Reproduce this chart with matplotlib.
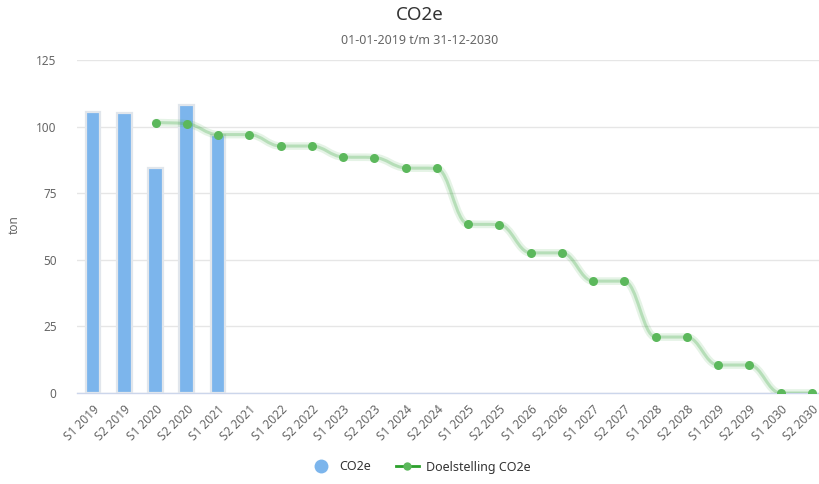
import matplotlib
matplotlib.use("Agg")
import matplotlib.pyplot as plt
from matplotlib.path import Path
from matplotlib.patches import PathPatch
from matplotlib.lines import Line2D

plt.rcParams['font.family'] = ['Noto Sans', 'DejaVu Sans']

categories = ["S1 2019", "S2 2019", "S1 2020", "S2 2020", "S1 2021", "S2 2021",
              "S1 2022", "S2 2022", "S1 2023", "S2 2023", "S1 2024", "S2 2024",
              "S1 2025", "S2 2025", "S1 2026", "S2 2026", "S1 2027", "S2 2027",
              "S1 2028", "S2 2028", "S1 2029", "S2 2029", "S1 2030", "S2 2030"]
co2e = [105.5, 105.2, 84.3, 108.0, 96.8]
target_start = 2
target = [101.5, 101.1, 97.0, 97.0, 92.7, 92.7, 88.6, 88.4, 84.5, 84.3,
          63.4, 63.2, 52.6, 52.6, 42.0, 42.0, 21.0, 21.0, 10.5, 10.5, 0.0, 0.0]
yticks = [0, 25, 50, 75, 100, 125]

W, H = 820, 484
fig = plt.figure(figsize=(W / 100, H / 100), dpi=100)
left, right, top, bottom = 77.4, 820, 60, 393
ax = fig.add_axes([left / W, 1 - bottom / H, (right - left) / W, (bottom - top) / H])

xs = list(range(len(categories)))
ax.bar(xs[:len(co2e)], co2e, width=0.47, color='#7cb5ec', edgecolor='#e1e6ec',
       linewidth=1.6, zorder=3)

# Highcharts-style spline through target points
tx = [target_start + i for i in range(len(target))]
ty = target
sm = 1.5
den = sm + 1
right_c = {}
verts = [(tx[0], ty[0])]
codes = [Path.MOVETO]
n = len(tx)
for i in range(1, n):
    px, py = tx[i], ty[i]
    lx, ly = tx[i - 1], ty[i - 1]
    lcx, lcy = px, py
    if i < n - 1:
        nx, ny = tx[i + 1], ty[i + 1]
        lcx = (sm * px + lx) / den
        lcy = (sm * py + ly) / den
        rcx = (sm * px + nx) / den
        rcy = (sm * py + ny) / den
        corr = 0
        if rcx != lcx:
            corr = (rcy - lcy) * (rcx - px) / (rcx - lcx) + py - rcy
        lcy += corr
        rcy += corr
        if lcy > ly and lcy > py:
            lcy = max(ly, py); rcy = 2 * py - lcy
        elif lcy < ly and lcy < py:
            lcy = min(ly, py); rcy = 2 * py - lcy
        if rcy > ny and rcy > py:
            rcy = max(ny, py); lcy = 2 * py - rcy
        elif rcy < ny and rcy < py:
            rcy = min(ny, py); lcy = 2 * py - rcy
        right_c[i] = (rcx, rcy)
    c1 = right_c.get(i - 1, (lx, ly))
    verts += [c1, (lcx, lcy), (px, py)]
    codes += [Path.CURVE4] * 3

path = Path(verts, codes)
ax.add_patch(PathPatch(path, facecolor='none', edgecolor='#4caf50', alpha=0.14,
                       linewidth=5.5, zorder=4, capstyle='round', joinstyle='round'))
ax.add_patch(PathPatch(path, facecolor='none', edgecolor='#4caf50', alpha=0.30,
                       linewidth=2.2, zorder=4, capstyle='round', joinstyle='round'))
ax.plot(tx, ty, linestyle='none', marker='o', markersize=6.5, color='#5cb85c',
        markeredgewidth=0, zorder=5)

ax.set_xlim(-0.5, -0.5 + (right - left) / 31.25)
ax.set_ylim(0, 125)
ax.set_yticks(yticks)
ax.set_yticklabels([str(v) for v in yticks])
ax.set_xticks(xs)
ax.set_xticklabels(categories, rotation=45, ha='right', va='top', rotation_mode='anchor')
ax.tick_params(axis='y', length=0, pad=15, labelsize=8.5, labelcolor='#666666')
ax.tick_params(axis='x', length=0, pad=7, labelsize=8.5, labelcolor='#666666')
ax.grid(axis='y', color='#e6e6e6', linewidth=1, zorder=0)
ax.set_axisbelow(True)
for s in ['top', 'right', 'left']:
    ax.spines[s].set_visible(False)
ax.spines['bottom'].set_color('#ccd6eb')
ax.spines['bottom'].set_linewidth(1)
ax.spines['bottom'].set_zorder(2)

fig.text(14 / W, 1 - 225 / H, 'ton', rotation=90, ha='center', va='center',
         fontsize=8.5, color='#666666')
fig.text(420 / W, 1 - 15 / H, 'CO2e', ha='center', va='center', fontsize=13.5,
         color='#333333')
fig.text(420 / W, 1 - 41 / H, '01-01-2019 t/m 31-12-2030', ha='center', va='center',
         fontsize=9, color='#666666')

handles = [
    Line2D([], [], linestyle='none', marker='o', markersize=10, color='#7cb5ec',
           markeredgewidth=0),
    Line2D([], [], color='#2ca02c', linewidth=2, marker='o', markersize=6,
           markerfacecolor='#5cb85c', markeredgewidth=0),
]
fig.legend(handles, ['CO2e', 'Doelstelling CO2e'], loc='center', ncol=2,
           bbox_to_anchor=(420 / W, 1 - 467 / H), frameon=False, fontsize=9,
           labelcolor='#333333', handlelength=1.8, columnspacing=2.0, handletextpad=0.6)

fig.savefig('out.png', dpi=100)
